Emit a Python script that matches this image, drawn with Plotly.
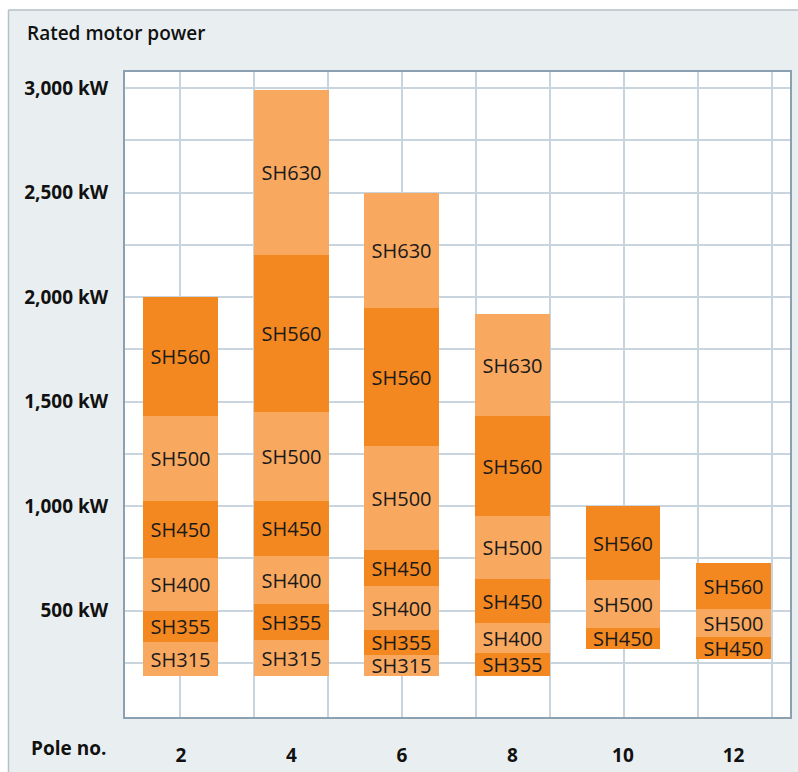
import plotly.graph_objects as go

# ---------------- data ----------------
poles = ["2", "4", "6", "8", "10", "12"]
models = ["SH315", "SH355", "SH400", "SH450", "SH500", "SH560", "SH630"]

# lower / upper rated power (kW) of each frame size per pole number
sh315_lo = [190, 190, 190, None, None, None]
sh315_hi = [350, 360, 290, None, None, None]
sh355_lo = [350, 360, 290, 190, None, None]
sh355_hi = [500, 530, 410, 300, None, None]
sh400_lo = [500, 530, 410, 300, None, None]
sh400_hi = [750, 760, 620, 440, None, None]
sh450_lo = [750, 760, 620, 440, 315, 270]
sh450_hi = [1025, 1025, 790, 650, 415, 375]
sh500_lo = [1025, 1025, 790, 650, 415, 375]
sh500_hi = [1430, 1450, 1290, 955, 645, 510]
sh560_lo = [1430, 1450, 1290, 955, 645, 510]
sh560_hi = [2000, 2200, 1950, 1430, 1000, 730]
sh630_lo = [None, 2200, 1950, 1430, None, None]
sh630_hi = [None, 2990, 2500, 1920, None, None]

y_tickvals = [250, 500, 750, 1000, 1250, 1500, 1750, 2000, 2250, 2500, 2750, 3000]
y_ticktext = ["", "500 kW", "", "1,000 kW", "", "1,500 kW", "", "2,000 kW", "", "2,500 kW", "", "3,000 kW"]

LIGHT = "#f8a85f"
DARK = "#f38720"
model_colors = [LIGHT, DARK, LIGHT, DARK, LIGHT, DARK, LIGHT]
lows = [sh315_lo, sh355_lo, sh400_lo, sh450_lo, sh500_lo, sh560_lo, sh630_lo]
highs = [sh315_hi, sh355_hi, sh400_hi, sh450_hi, sh500_hi, sh560_hi, sh630_hi]

xpos = list(range(len(poles)))

fig = go.Figure()
for name, lo, hi, col in zip(models, lows, highs, model_colors):
    xs, bases, lens = [], [], []
    for i, (a, b) in enumerate(zip(lo, hi)):
        if a is None or b is None:
            continue
        xs.append(xpos[i]); bases.append(a); lens.append(b - a)
    fig.add_trace(go.Bar(
        x=xs, y=lens, base=bases, width=0.678,
        marker=dict(color=col, line=dict(width=0)),
        text=[name] * len(xs), textposition="inside", insidetextanchor="middle",
        textangle=0, textfont=dict(family="Open Sans", size=20, color="#1a1a1a"),
        name=name, showlegend=False, hoverinfo="skip",
    ))

GRID = "#c8d5de"
AXIS = "#8ba0b0"
BG = "#e9eff0"

W, H = 798, 772
L, R, T, B = 125, 8, 72, 55
PW, PH = W - L - R, H - T - B


def px(xf):
    return (xf - L) / PW


def py(yf):
    return (H - B - yf) / PH


fig.update_layout(
    width=W, height=H,
    margin=dict(l=L, r=R, t=T, b=B, autoexpand=False),
    paper_bgcolor=BG, plot_bgcolor="white",
    barmode="overlay", bargap=0,
    uniformtext=dict(mode="show", minsize=20),
    xaxis=dict(
        range=[-0.505, 5.511], tickmode="array", tickvals=xpos, ticktext=poles,
        showgrid=False, zeroline=False, automargin=False,
        showline=True, linecolor=AXIS, linewidth=2, mirror=True,
        ticks="", ticklabelstandoff=20,
        tickfont=dict(family="Open Sans", size=19, color="#111111", weight="bold"),
        minor=dict(tick0=-0.007, dtick=0.6694, showgrid=True, gridcolor=GRID, gridwidth=2, ticks=""),
    ),
    yaxis=dict(
        range=[-8.4, 3076.5], tickmode="array", tickvals=y_tickvals, ticktext=y_ticktext,
        showgrid=True, gridcolor=GRID, gridwidth=2, zeroline=False, automargin=False,
        showline=True, linecolor=AXIS, linewidth=2, mirror=True,
        ticks="", ticklabelstandoff=11,
        tickfont=dict(family="Open Sans", size=19, color="#111111", weight="bold"),
    ),
    font=dict(family="Open Sans"),
    shapes=[
        # white page margin above / left of the framed panel
        dict(type="rect", xref="paper", yref="paper", layer="below",
             x0=px(-5), x1=px(W + 5), y0=py(-5), y1=py(10),
             fillcolor="white", line=dict(width=0)),
        dict(type="rect", xref="paper", yref="paper", layer="below",
             x0=px(-5), x1=px(8), y0=py(-5), y1=py(H + 5),
             fillcolor="white", line=dict(width=0)),
        dict(type="line", xref="paper", yref="paper", layer="above",
             x0=px(8.5), x1=px(W + 5), y0=py(10), y1=py(10),
             line=dict(color="#b3c1c8", width=1.5)),
        dict(type="line", xref="paper", yref="paper", layer="above",
             x0=px(8.5), x1=px(8.5), y0=py(10), y1=py(H + 5),
             line=dict(color="#b3c1c8", width=1.5)),
    ],
    annotations=[
        dict(text="Rated motor power", xref="paper", yref="paper",
             x=px(25), y=py(33), xanchor="left", yanchor="middle",
             showarrow=False, font=dict(family="Open Sans", size=19, color="#111111", weight=600)),
        dict(text="Pole no.", xref="paper", yref="paper",
             x=px(29), y=py(748), xanchor="left", yanchor="middle",
             showarrow=False, font=dict(family="Open Sans", size=19, color="#111111", weight="bold")),
    ],
)

fig.write_html(
    "out.html",
    config={"displayModeBar": False},
    post_script="document.body.style.margin='0';document.body.style.overflow='hidden';",
)
